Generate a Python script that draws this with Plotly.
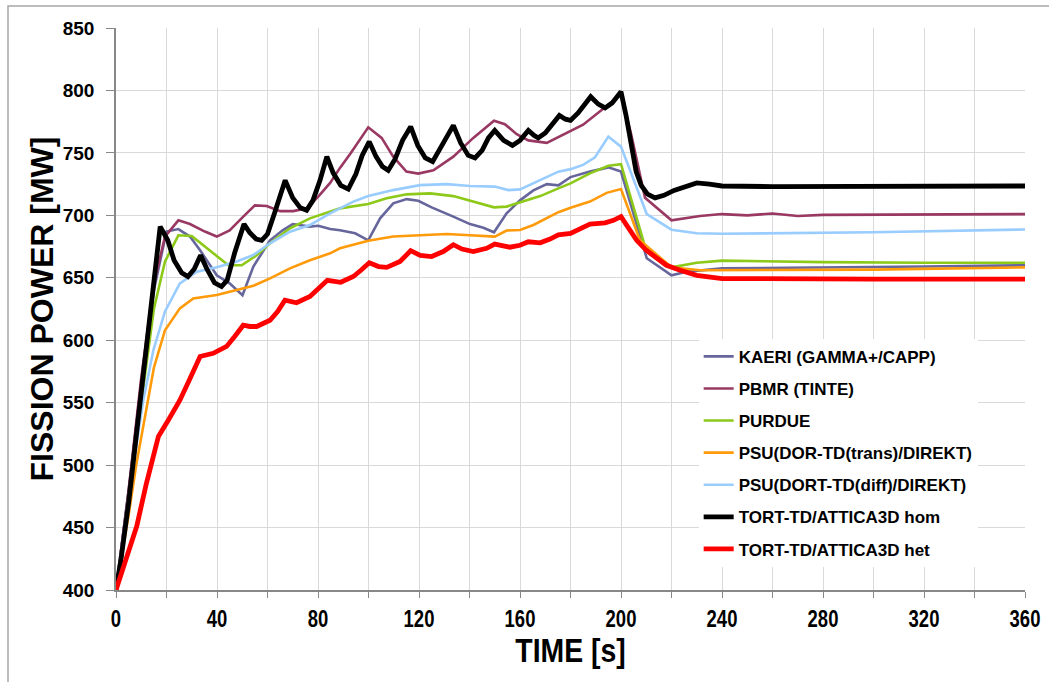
import plotly.graph_objects as go

# ---- series data: time [s] and fission power [MW] ----
kaeri_t = [0, 5, 10, 15, 20, 24.7, 29.3, 33.3, 39.9, 45, 50.1, 54.4, 61, 66, 70, 76.8, 80.1, 84.8,
           88.7, 94.7, 99.9, 104.6, 109.8, 115.1, 119.7, 125, 133.6, 140.2, 145.5, 149.7, 154.7,
           160, 165.3, 170.6, 175.2, 180, 187.7, 195, 200, 210.2, 220, 226, 240, 280, 320, 360]
kaeri_p = [400, 480, 565, 640, 687, 689, 683, 672, 652, 645.5, 636, 659, 680, 688, 693, 691, 691.7, 689,
           688, 685.6, 680, 697.6, 709.6, 713, 711.7, 706.4, 699, 693, 690, 686.4, 701.6,
           712, 720, 725, 724, 730.6, 735, 738.4, 735, 665.6, 652, 654.8, 657.5, 658, 659, 660]

pbmr_t = [0, 5, 10, 15, 19.4, 24.7, 29.3, 35.2, 39.9, 45, 50.4, 55, 59.7, 65, 70.2, 75.5, 80.1, 84.8,
          88.7, 93, 99.9, 105.2, 109.8, 115, 119.7, 125.7, 133.6, 141.5, 149.7, 154, 158.7, 163.3,
          170.6, 178.5, 185, 193.7, 200, 204, 209.5, 220, 231.3, 240, 250, 260, 270, 280, 300, 320, 340, 360]
pbmr_p = [400, 480, 570, 645, 683, 696, 693, 687, 683, 688, 699, 708, 707.5, 703.4, 703.4, 705.6, 715, 726,
          738, 750, 770.5, 762, 747, 735, 733.4, 736, 747, 762, 775.8, 773, 765, 760,
          758, 766, 772.6, 786.5, 797, 765, 714, 696, 699.4, 701, 700, 701.5, 699.5, 700.4, 700.5, 700.5, 701, 701]

purdue_t = [0, 5, 10, 15, 19.4, 24.7, 30, 35.2, 39.9, 44.5, 49.8, 55.7, 61, 68.9, 76.8, 84.8, 88.7,
            99.9, 107.2, 115.1, 124.4, 133.6, 141.5, 149.7, 154.7, 162.6, 168, 175.2, 180, 187.7,
            195, 200, 209.5, 220, 230, 240, 280, 320, 360]
purdue_p = [400, 470, 550, 625, 663, 684, 683.4, 674.9, 667, 660, 660, 668, 677.6, 689.6, 697.6, 703, 705.6,
            709, 713.6, 716.8, 717.6, 715.4, 710.9, 706.4, 707, 712.3, 715.4, 721.6, 725.6, 733.6,
            739.7, 741, 674.9, 658.4, 662, 663.7, 662.5, 662, 662]

psu_trans_t = [0, 5, 8, 12, 15, 19.4, 25.3, 30.6, 39.9, 47.8, 54.4, 61, 68.9, 76.8, 84.8, 88.7, 99.9,
               109.8, 120.4, 131, 140.2, 150, 154.7, 160, 165.3, 171.9, 175.2, 180, 187.7, 194.3,
               200, 207.5, 220, 231.3, 240, 300, 360]
psu_trans_p = [400, 460, 500, 545, 578, 608, 625.5, 633.5, 636.2, 640.2, 643.6, 649.5, 657.5, 664, 669.6, 673.6, 679.7,
               683, 684.3, 685, 684, 683, 687.8, 688.3, 692.3, 699, 702.5, 706, 711, 718,
               721, 680, 658.4, 656, 656, 656.5, 658.3]

psu_diff_t = [0, 5, 10.8, 14.8, 19.4, 25.3, 32, 39.9, 47.8, 54.4, 61, 68.9, 76.8, 84.8, 94, 99.9,
              109.8, 120.4, 131, 140.2, 150, 155.4, 160, 165.3, 171.9, 175.2, 180, 185, 189.7, 195,
              200, 210.2, 220, 230, 240, 300, 360]
psu_diff_p = [400, 475, 552, 592, 623, 645.5, 654.9, 658.4, 663, 668.2, 677.6, 686.9, 692.2, 701.6, 711, 715.4,
              720.2, 724.2, 725, 723.5, 723, 720.2, 720.8, 725.6, 732.2, 735, 737, 740.4, 746.5, 763,
              755, 701, 688.5, 685.6, 685.2, 686.5, 688.7]

tort_hom_t = [0, 2, 5, 10, 14, 17.5, 20.5, 23, 26, 28.5, 31, 33.5, 36, 39, 41.8, 44, 47, 50.7, 53, 55.5,
              57.7, 60, 63, 67, 70, 73, 75.5, 78, 80.8, 83.5, 86, 89, 92, 95, 97.5, 100.3, 103, 105.5,
              107.8, 110.5, 113.5, 116.7, 119.5, 122.5, 125.4, 128, 131, 133.6, 136.5, 139.5, 142.2,
              145, 147.5, 150, 153.5, 157, 160, 163.3, 165.5, 167.2, 170, 173, 175.6, 178, 180, 183,
              186, 188, 191, 193.7, 196.5, 200, 202, 204, 206, 208, 210.5, 213.5, 217, 221, 225, 230,
              235, 240, 260, 280, 300, 320, 340, 360]
tort_hom_p = [400, 425, 470, 560, 630, 691, 680, 664, 654, 651, 657, 668, 657, 646, 643, 648, 670, 693, 686, 681,
              680, 685, 703, 728, 714, 706, 704, 712, 728, 747, 734, 724, 721, 733, 748, 759, 747, 739,
              736, 745, 760, 771, 756, 746, 743, 752, 764, 772, 758, 748, 746,
              752, 762, 768, 760, 756, 760, 768, 764, 762, 766, 773, 780, 777, 776, 782,
              790, 795, 789, 786, 790, 799, 780, 755, 735, 724, 717, 714, 716, 720, 723, 726,
              725, 723.5, 723, 723, 723, 723, 723.5, 723.5]

tort_het_t = [0, 3, 8.2, 12, 16.8, 20.7, 25.3, 29, 33.3, 38.5, 43.8, 47, 50.4, 53, 55.7, 61, 64, 66.9,
              71.5, 76.8, 80, 83.7, 89, 94, 97, 100.3, 104, 107.2, 112.5, 116.7, 120.5, 125, 129.6,
              133.6, 137, 141.5, 146.8, 150, 156, 160, 163.3, 168, 171.9, 175.2, 180, 184, 187.7,
              193.7, 197, 200, 203, 206.2, 210, 214, 218, 223.4, 230, 240, 260, 300, 360]
tort_het_p = [400, 418, 451, 485, 523, 536, 552, 568, 587, 589.5, 595, 603, 612, 611, 611, 616, 623, 632,
              630, 635, 641, 648, 646.4, 651, 656, 662, 659, 658.3, 663, 671.7, 668, 667, 671,
              676.5, 673, 671, 673.6, 677, 674.5, 676, 678.8, 678, 681, 684.3, 685.6, 689, 693,
              694, 696, 699, 690, 680, 672, 665.6, 660, 656, 652, 649.4, 649, 649, 649]

series = [
    ("KAERI (GAMMA+/CAPP)", kaeri_t, kaeri_p, "#66669c", 2.6),
    ("PBMR (TINTE)", pbmr_t, pbmr_p, "#993862", 2.6),
    ("PURDUE", purdue_t, purdue_p, "#8dc919", 2.6),
    ("PSU(DOR-TD(trans)/DIREKT)", psu_trans_t, psu_trans_p, "#ff9a0a", 2.6),
    ("PSU(DORT-TD(diff)/DIREKT)", psu_diff_t, psu_diff_p, "#99ccff", 2.6),
    ("TORT-TD/ATTICA3D hom", tort_hom_t, tort_hom_p, "#000000", 4.8),
    ("TORT-TD/ATTICA3D het", tort_het_t, tort_het_p, "#ff0000", 4.8),
]

x_ticks = list(range(0, 361, 40))
y_ticks = list(range(400, 851, 50))

SANS = "Liberation Sans, Arial, sans-serif"

fig = go.Figure()
for i, (name, t, p, color, w) in enumerate(series):
    fig.add_trace(go.Scatter(
        x=t, y=p, mode="lines", name=name, legendgroup=str(i),
        line=dict(color=color, width=w),
    ))

fig.update_layout(
    width=1049, height=682,
    margin=dict(l=116, r=24, t=28, b=92),
    paper_bgcolor="white", plot_bgcolor="white",
    font=dict(family=SANS, color="black"),
    showlegend=True,
    legend=dict(
        x=0.641, y=0.447, xanchor="left", yanchor="top",
        bgcolor="white", borderwidth=0,
        font=dict(size=17, weight="bold", family=SANS),
        traceorder="grouped", tracegroupgap=7,
        itemwidth=30,
    ),
    shapes=[dict(
        type="rect", xref="paper", yref="paper",
        x0=(8 - 116) / 909, x1=(1100 - 116) / 909,
        y0=(590 - 720) / 562, y1=(590 - 6) / 562,
        line=dict(color="#a6a6a6", width=1.5), fillcolor="rgba(0,0,0,0)", layer="below",
    )],
)

fig.update_xaxes(
    range=[0, 360], tickvals=x_ticks, ticktext=[str(v) for v in x_ticks],
    automargin=False,
    showgrid=True, gridcolor="#d9d9d9", gridwidth=1,
    minor=dict(dtick=20, showgrid=True, gridcolor="#d9d9d9", ticks="outside", ticklen=6, tickcolor="#888888"),
    showline=True, linecolor="#888888", linewidth=1.5,
    ticks="outside", ticklen=6, tickcolor="#888888",
    tickfont=dict(family=SANS, size=24, weight="bold"),
    title=dict(text="TIME [s]", standoff=6, font=dict(family=SANS, size=33, weight="bold")),
    zeroline=False,
)
fig.update_yaxes(
    range=[400, 850], tickvals=y_ticks, ticktext=[str(v) for v in y_ticks],
    automargin=False,
    showgrid=True, gridcolor="#d9d9d9", gridwidth=1,
    showline=True, linecolor="#888888", linewidth=1.5,
    ticks="outside", ticklen=8, tickcolor="#888888",
    ticklabelstandoff=8,
    tickfont=dict(size=19, weight="bold"),
    title=dict(text="FISSION POWER [MW]", standoff=0, font=dict(size=32, weight="bold")),
    zeroline=False,
)

# narrow the time-axis lettering (condensed face)
squeeze_js = """
var gd = document.getElementById('{plot_id}');
function squeeze(sel, f) {
  gd.querySelectorAll(sel).forEach(function (t) {
    var w = t.getComputedTextLength();
    t.setAttribute('textLength', w * f);
    t.setAttribute('lengthAdjust', 'spacingAndGlyphs');
  });
}
squeeze('.xtick text', 0.77);
squeeze('.g-xtitle text', 0.86);
"""

fig.write_html("out.html", post_script=squeeze_js)
